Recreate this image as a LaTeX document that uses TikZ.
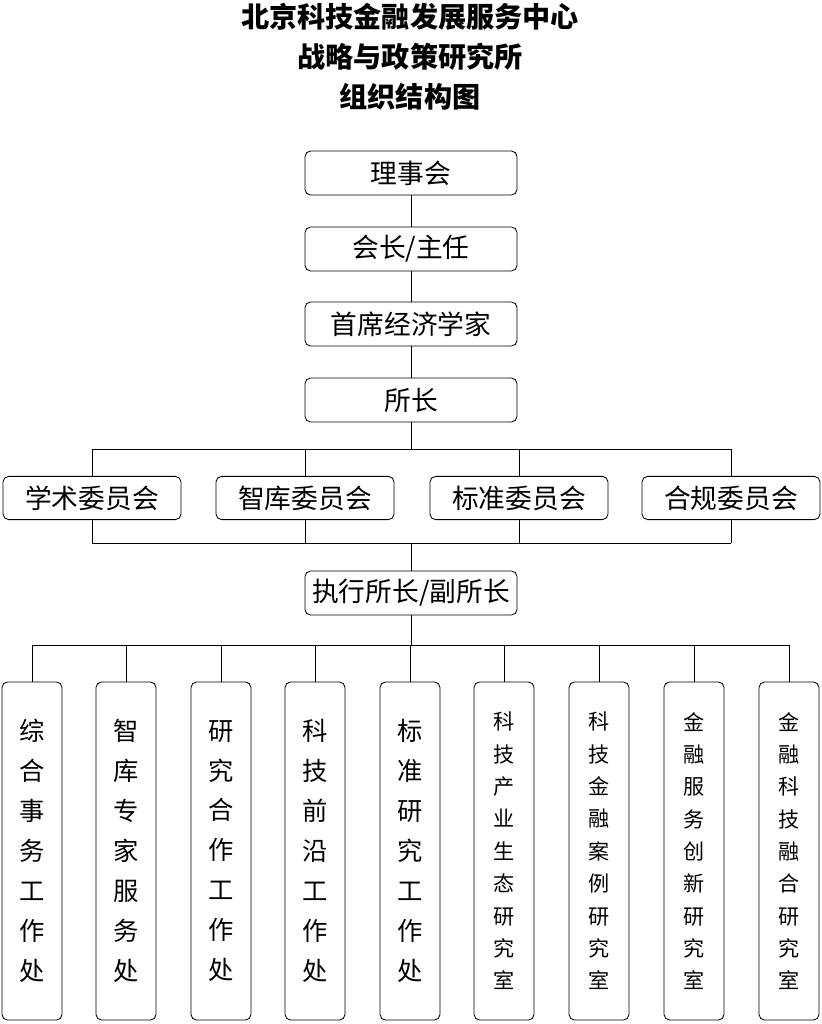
\documentclass[tikz,border=0pt]{standalone}
\usepackage{fontspec}
\setmainfont{Noto Sans CJK SC}
\usepackage{tikz}

\begin{document}
\begin{tikzpicture}[
            x = 0.025cm, y = -0.025cm, % pixel grid
            semithick, % line style
            box/.style = {draw=black, rounded corners=4pt, minimum width=5.3cm, minimum height=1.1cm, font=\fontsize{19}{22}\selectfont},
            cbox/.style = {draw=black, rounded corners=4pt, minimum width=4.45cm, minimum height=1.08cm, font=\fontsize{19}{22}\selectfont},
            vbox/.style = {draw=black, rounded corners=4pt, minimum width=1.5cm, minimum height=8.45cm, align=center},
            vseven/.style = {vbox, font=\fontsize{18}{28.4}\selectfont},
            vnine/.style = {vbox, font=\fontsize{15}{23}\selectfont}
        ]
\useasboundingbox (0,0) rectangle (821,1024);

\node[align=center, font=\fontsize{20}{28.5}\selectfont\bfseries] (title) at (410,57) {北京科技金融发展服务中心\\战略与政策研究所\\组织结构图};

\node[box] (board) at (411,173) {理事会};
\node[box] (chair) at (411,249) {会长/主任};
\node[box] (econ) at (411,324) {首席经济学家};
\node[box] (head) at (411,400) {所长};

\node[cbox] (c1) at (92,498) {学术委员会};
\node[cbox] (c2) at (305,498) {智库委员会};
\node[cbox] (c3) at (519,498) {标准委员会};
\node[cbox] (c4) at (731,498) {合规委员会};

\node[box] (exec) at (411,593) {执行所长/副所长};

\node[vseven] (d1) at (32,851) {综\\合\\事\\务\\工\\作\\处};
\node[vseven] (d2) at (126,851) {智\\库\\专\\家\\服\\务\\处};
\node[vseven] (d3) at (221,851) {研\\究\\合\\作\\工\\作\\处};
\node[vseven] (d4) at (315,851) {科\\技\\前\\沿\\工\\作\\处};
\node[vseven] (d5) at (410,851) {标\\准\\研\\究\\工\\作\\处};
\node[vnine] (d6) at (504,851) {科\\技\\产\\业\\生\\态\\研\\究\\室};
\node[vnine] (d7) at (599,851) {科\\技\\金\\融\\案\\例\\研\\究\\室};
\node[vnine] (d8) at (694,851) {金\\融\\服\\务\\创\\新\\研\\究\\室};
\node[vnine] (d9) at (789,851) {金\\融\\科\\技\\融\\合\\研\\究\\室};

\coordinate (top) at (411,449);
\coordinate (bot) at (411,543);
\coordinate (low) at (411,645);

\draw (board) -- (chair);
\draw (chair) -- (econ);
\draw (econ) -- (head);
\draw (head) -- (top);
\draw (c1.north |- top) -- (c4.north |- top);
\draw (c1.south |- bot) -- (c4.south |- bot);
\foreach \c in {c1,c2,c3,c4} {
  \draw (\c.north |- top) -- (\c.north);
  \draw (\c.south) -- (\c.south |- bot);
}
\draw (bot) -- (exec);
\draw (exec) -- (low);
\draw (d1.north |- low) -- (d9.north |- low);
\foreach \d in {d1,d2,d3,d4,d5,d6,d7,d8,d9}
  \draw (\d.north |- low) -- (\d.north);
\end{tikzpicture}
\end{document}
